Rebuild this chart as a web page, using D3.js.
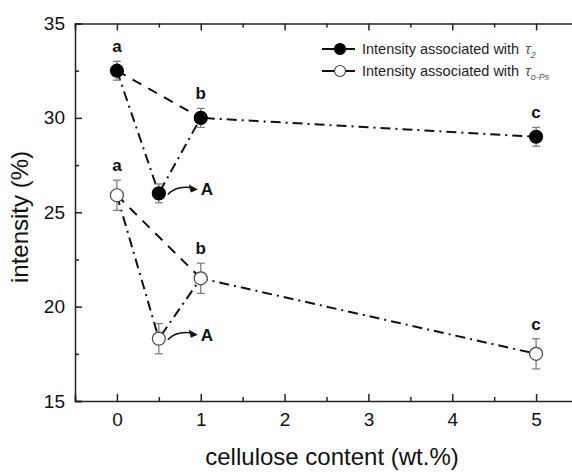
<!DOCTYPE html>
<html><head><meta charset="utf-8">
<script src="https://cdn.jsdelivr.net/npm/d3@7"></script>
<style>body{margin:0;background:#fff}svg{display:block}text{font-family:"Liberation Sans",Arial,sans-serif}</style>
</head><body>
<svg id="c" width="572" height="472"></svg>
<script>
const xVals = [0, 0.5, 1, 5];
const tau2 = [32.5, 26.0, 30.0, 29.0];
const tau2Err = [0.5, 0.5, 0.5, 0.5];
const tauOPs = [25.9, 18.3, 21.5, 17.5];
const tauOPsErr = [0.8, 0.8, 0.8, 0.8];
const xTicks = [0, 1, 2, 3, 4, 5];
const yTicks = [15, 20, 25, 30, 35];
const letters2 = [{x:0,t:"a"},{x:1,t:"b"},{x:5,t:"c"}];

const svg = d3.select("#c");
const L = 75, T = 23.5, R = 578, B = 401;
const x = d3.scaleLinear().domain([-0.5, 5.5]).range([L, R]);
const y = d3.scaleLinear().domain([15, 35]).range([B, T]);

// axes
const g = svg.append("g");
const ax = (sel) => sel.selectAll(".domain").attr("stroke","#222").attr("stroke-width",1.5);
g.append("g").attr("transform",`translate(0,${B})`)
  .call(d3.axisBottom(x).tickValues(xTicks).tickSize(-7).tickPadding(12).tickFormat(d3.format("d")))
  .call(ax).call(s=>s.selectAll("text").attr("font-size",19).attr("fill","#111"))
  .call(s=>s.selectAll("line").attr("stroke","#222").attr("stroke-width",1.5));
g.append("g").attr("transform",`translate(0,${B})`)
  .call(d3.axisBottom(x).tickValues(d3.range(-0.5,5.6,1)).tickSize(-4).tickFormat(""))
  .call(s=>s.select(".domain").remove()).call(s=>s.selectAll("line").attr("stroke","#222").attr("stroke-width",1.5));
g.append("g").attr("transform",`translate(0,${T})`)
  .call(d3.axisTop(x).tickValues(xTicks).tickSize(-7).tickFormat(""))
  .call(ax).call(s=>s.selectAll("line").attr("stroke","#222").attr("stroke-width",1.5));
g.append("g").attr("transform",`translate(0,${T})`)
  .call(d3.axisTop(x).tickValues(d3.range(-0.5,5.6,1)).tickSize(-4).tickFormat(""))
  .call(s=>s.select(".domain").remove()).call(s=>s.selectAll("line").attr("stroke","#222").attr("stroke-width",1.5));
g.append("g").attr("transform",`translate(${L},0)`)
  .call(d3.axisLeft(y).tickValues(yTicks).tickSize(-7).tickPadding(10))
  .call(ax).call(s=>s.selectAll("text").attr("font-size",19).attr("fill","#111"))
  .call(s=>s.selectAll("line").attr("stroke","#222").attr("stroke-width",1.5));
g.append("g").attr("transform",`translate(${L},0)`)
  .call(d3.axisLeft(y).tickValues([17.5,22.5,27.5,32.5]).tickSize(-4).tickFormat(""))
  .call(s=>s.select(".domain").remove()).call(s=>s.selectAll("line").attr("stroke","#222").attr("stroke-width",1.5));

// axis titles
svg.append("text").attr("x", 332).attr("y", 465).attr("text-anchor","middle")
  .attr("font-size",24).attr("fill","#111").text("cellulose content (wt.%)");
svg.append("text").attr("transform",`translate(28,217) rotate(-90)`).attr("text-anchor","middle")
  .attr("font-size",24).attr("fill","#111").text("intensity (%)");

const line = d3.line().x(d=>x(d[0])).y(d=>y(d[1]));
function series(vals, errs, fill) {
  const pts = xVals.map((v,i)=>[v, vals[i]]);
  // dashed direct 0 -> 1
  svg.append("path").attr("d", line([pts[0], pts[2]])).attr("fill","none")
    .attr("stroke","#111").attr("stroke-width",2).attr("stroke-dasharray","10,8");
  // dash-dot through all
  svg.append("path").attr("d", line(pts)).attr("fill","none")
    .attr("stroke","#111").attr("stroke-width",2).attr("stroke-dasharray","10,5,2,5");
  // error bars
  pts.forEach((p,i)=>{
    const cx = x(p[0]), y1 = y(p[1]+errs[i]), y2 = y(p[1]-errs[i]);
    const eg = svg.append("g").attr("stroke","#777").attr("stroke-width",1.2);
    eg.append("line").attr("x1",cx).attr("x2",cx).attr("y1",y1).attr("y2",y2);
    eg.append("line").attr("x1",cx-4).attr("x2",cx+4).attr("y1",y1).attr("y2",y1);
    eg.append("line").attr("x1",cx-4).attr("x2",cx+4).attr("y1",y2).attr("y2",y2);
  });
  svg.append("g").selectAll("circle").data(pts).join("circle")
    .attr("cx",d=>x(d[0])).attr("cy",d=>y(d[1])).attr("r",6.5)
    .attr("fill",fill).attr("stroke", fill==="#fff" ? "#444" : "#000").attr("stroke-width",1.2);
  // letters
  letters2.forEach(l=>{
    const i = xVals.indexOf(l.x);
    svg.append("text").attr("x",x(l.x)).attr("y",y(vals[i]+errs[i])-9).attr("text-anchor","middle")
      .attr("font-size",17).attr("font-weight","bold").attr("fill","#111").text(l.t);
  });
  // "A" with curved arrow
  const ax0 = x(0.5)+9, ay0 = y(vals[1])+1;
  const ax1 = ax0+26, ay1 = ay0-6;
  svg.append("path").attr("d",`M${ax0},${ay0} Q${ax0+10},${ay0-10} ${ax1},${ay1}`)
    .attr("fill","none").attr("stroke","#111").attr("stroke-width",1.5);
  svg.append("path").attr("d",`M${ax1+4},${ay1+1} L${ax1-5},${ay1-4} L${ax1-3},${ay1+4} Z`).attr("fill","#111");
  svg.append("text").attr("x",ax1+7).attr("y",ay1+7).attr("font-size",17).attr("font-weight","bold")
    .attr("fill","#111").text("A");
}
series(tau2, tau2Err, "#000");
series(tauOPs, tauOPsErr, "#fff");

// legend
const leg = [{f:"#000", sub:"2", y:49},{f:"#fff", sub:"o-Ps", y:71}];
leg.forEach(d=>{
  svg.append("line").attr("x1",322).attr("x2",355).attr("y1",d.y).attr("y2",d.y).attr("stroke","#111").attr("stroke-width",2);
  svg.append("circle").attr("cx",340).attr("cy",d.y).attr("r",5.5).attr("fill",d.f).attr("stroke",d.f==="#fff"?"#444":"#000").attr("stroke-width",1.2);
  const t = svg.append("text").attr("x",362).attr("y",d.y+5).attr("font-size",14.5).attr("fill","#222");
  t.append("tspan").text("Intensity associated with ");
  t.append("tspan").attr("font-style","italic").attr("fill","#555").attr("dx",2).text("τ");
  t.append("tspan").attr("font-style","italic").attr("fill","#555").attr("font-size",9).attr("dy",4).text(d.sub);
});
</script>
</body></html>
